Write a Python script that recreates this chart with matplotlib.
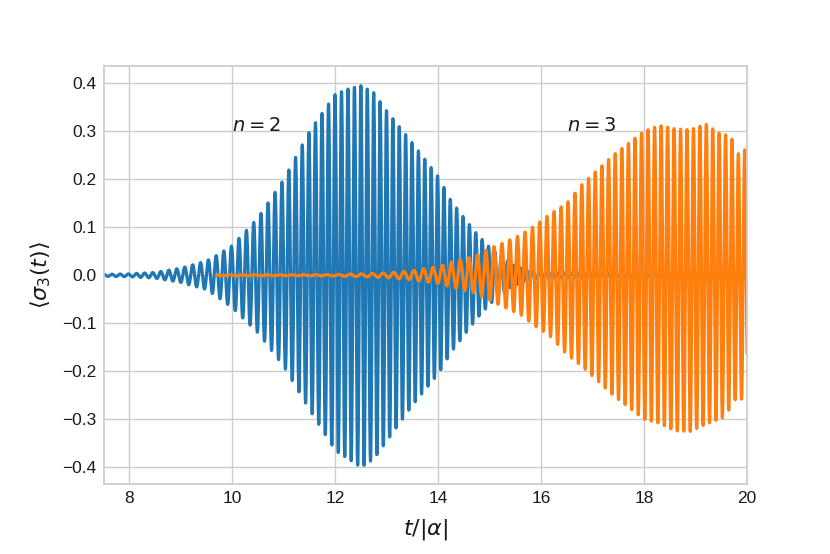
import numpy as np
import matplotlib
matplotlib.use("Agg")
import matplotlib.pyplot as plt

# ---- data -------------------------------------------------------------
# n = 2 series (blue): upper / lower envelope of the oscillation
blue_knots = [7.5, 8.0, 8.5, 9.0, 9.5, 9.75, 10.0, 10.5, 11.0, 11.5, 12.0, 12.25,
              12.5, 12.75, 13.0, 13.5, 14.0, 14.25, 14.5, 14.75, 15.0, 15.25,
              15.5, 15.75, 16.0, 17.0, 18.0, 19.0, 20.0]
blue_upper = [0.002, 0.003, 0.006, 0.015, 0.030, 0.045, 0.062, 0.120, 0.200, 0.300,
              0.377, 0.388, 0.395, 0.380, 0.342, 0.275, 0.205, 0.155, 0.120, 0.086,
              0.058, 0.037, 0.019, 0.010, 0.006, 0.004, 0.003, 0.003, 0.003]
blue_lower = [-0.002, -0.003, -0.006, -0.015, -0.030, -0.048, -0.068, -0.120, -0.190,
              -0.280, -0.365, -0.382, -0.400, -0.382, -0.345, -0.270, -0.205, -0.160,
              -0.125, -0.090, -0.060, -0.038, -0.020, -0.010, -0.006, -0.004, -0.003,
              -0.003, -0.003]
# local oscillation period of the blue series
blue_period_knots = [7.5, 8.5, 9.5, 10.0, 10.5, 11.0, 11.5, 12.0, 13.0, 14.0, 20.0]
blue_period = [0.160, 0.157, 0.152, 0.147, 0.140, 0.133, 0.128, 0.126, 0.124, 0.124, 0.122]

# n = 3 series (orange)
orange_start = 9.7
orange_knots = [9.7, 11.0, 12.0, 12.5, 13.0, 13.5, 14.0, 14.3, 14.7, 15.0, 15.25,
                15.6, 15.9, 16.15, 16.5, 16.8, 17.1, 17.4, 17.7, 18.0, 18.3, 18.6,
                18.9, 19.2, 19.45, 19.6, 19.7, 19.8, 19.9, 20.0]
orange_upper = [0.001, 0.001, 0.0015, 0.003, 0.005, 0.010, 0.018, 0.029, 0.039, 0.056,
                0.067, 0.084, 0.105, 0.126, 0.150, 0.190, 0.220, 0.250, 0.275, 0.300,
                0.312, 0.305, 0.303, 0.315, 0.296, 0.292, 0.286, 0.250, 0.260, 0.262]
orange_lower = [-0.001, -0.001, -0.0015, -0.003, -0.005, -0.010, -0.017, -0.026, -0.037,
                -0.052, -0.065, -0.082, -0.107, -0.124, -0.165, -0.190, -0.220, -0.250,
                -0.275, -0.300, -0.308, -0.324, -0.325, -0.310, -0.300, -0.293, -0.266,
                -0.256, -0.258, -0.260]
orange_period_knots = [9.7, 12.0, 13.0, 14.0, 15.0, 16.0, 17.0, 18.0, 19.0, 20.0]
orange_period = [0.250, 0.225, 0.205, 0.180, 0.158, 0.140, 0.130, 0.127, 0.125, 0.124]

labels = ["$n=2$", "$n=3$"]
label_pos_t = [10.0, 16.5]
label_pos_y = [0.30, 0.30]

xlim = (7.5, 20.0)
ylim = (-0.435, 0.436)
xticks = [8, 10, 12, 14, 16, 18, 20]
yticks = [-0.4, -0.3, -0.2, -0.1, 0.0, 0.1, 0.2, 0.3, 0.4]


def build_curve(t0, t1, knots, upper, lower, pk, per, n=40000):
    t = np.linspace(t0, t1, n)
    up = np.interp(t, knots, upper)
    lo = np.interp(t, knots, lower)
    p = np.interp(t, pk, per)
    phase = 2 * np.pi * np.concatenate([[0.0], np.cumsum(np.diff(t) / p[:-1])])
    mid = 0.5 * (up + lo)
    half = 0.5 * (up - lo)
    return t, mid + half * np.cos(phase)


tb, yb = build_curve(7.5, 20.0, blue_knots, blue_upper, blue_lower,
                     blue_period_knots, blue_period)
to, yo = build_curve(orange_start, 20.0, orange_knots, orange_upper, orange_lower,
                     orange_period_knots, orange_period)

plt.rcParams["font.family"] = ["Liberation Sans", "DejaVu Sans"]
plt.rcParams["mathtext.fontset"] = "dejavusans"

fig = plt.figure(figsize=(8.30, 5.54), dpi=100)
ax = fig.add_axes([0.125, 0.126, 0.775, 0.755])

ax.plot(tb, yb, color="#1f77b4", lw=2.3)
ax.plot(to, yo, color="#ff7f0e", lw=2.3)

for lab, xt, yt in zip(labels, label_pos_t, label_pos_y):
    ax.text(xt, yt, lab, fontsize=14, color="#1a1a1a")

ax.set_xlim(*xlim)
ax.set_ylim(*ylim)
ax.set_xticks(xticks)
ax.set_yticks(yticks)
ax.set_xticklabels([str(v) for v in xticks])
ax.set_yticklabels(["\u2212%.1f" % abs(v) if v < 0 else "%.1f" % v for v in yticks])

ax.grid(True, color="#cccccc", lw=1.0)
ax.set_axisbelow(True)
for s in ax.spines.values():
    s.set_color("#cccccc")
    s.set_linewidth(1.25)
ax.tick_params(length=0, pad=5, labelsize=12.5, colors="#1a1a1a")

ax.set_xlabel(r"$t/|\alpha|$", fontsize=16, color="#1a1a1a", labelpad=8)
ax.set_ylabel(r"$\langle\sigma_3(t)\rangle$", fontsize=16, color="#1a1a1a", labelpad=7)

fig.savefig("out.png", dpi=100)
